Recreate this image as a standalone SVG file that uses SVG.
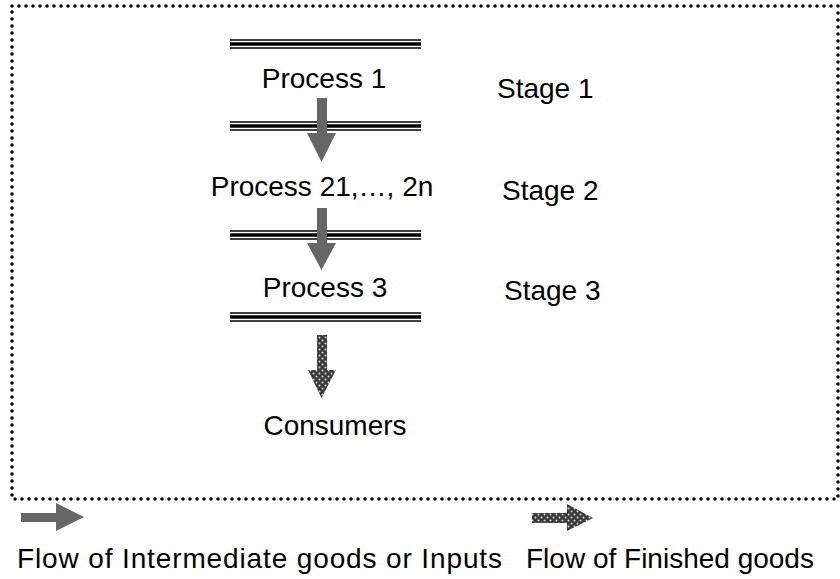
<svg xmlns="http://www.w3.org/2000/svg" width="840" height="579" viewBox="0 0 840 579">
<defs>
<pattern id="dots" width="6" height="6" patternUnits="userSpaceOnUse">
<rect width="6" height="6" fill="#3a3a3a"/>
<circle cx="1.5" cy="1.5" r="1" fill="#dcdcdc"/>
<circle cx="4.5" cy="4.5" r="1" fill="#dcdcdc"/>
</pattern>
<g id="tri">
<line x1="230" y1="-4" x2="421" y2="-4" stroke="#000" stroke-width="1.5"/>
<line x1="230" y1="0" x2="421" y2="0" stroke="#000" stroke-width="3.5"/>
<line x1="230" y1="4" x2="421" y2="4" stroke="#000" stroke-width="1.5"/>
</g>
</defs>
<style>
.t{font-family:"Liberation Sans",Arial,sans-serif;font-size:28px;fill:#000}
.solid{fill:#666}
.dotted{fill:url(#dots)}
.border{fill:none;stroke:#000;stroke-width:3.5;stroke-linecap:round;stroke-dasharray:0 7}
</style>
<rect width="840" height="579" fill="#fff"/>
<rect class="border" x="12" y="6" width="826" height="493"/>
<g id="separators">
<use href="#tri" y="44"/>
<use href="#tri" y="126"/>
<use href="#tri" y="235"/>
<use href="#tri" y="317"/>
</g>
<g id="process1"><text class="t" x="324" y="88" text-anchor="middle">Process 1</text></g>
<g id="stage1"><text class="t" x="497" y="98">Stage 1</text></g>
<g id="process2"><text class="t" x="322" y="196" text-anchor="middle">Process 21,…, 2n</text></g>
<g id="stage2"><text class="t" x="502" y="200">Stage 2</text></g>
<g id="process3"><text class="t" x="325" y="297" text-anchor="middle">Process 3</text></g>
<g id="stage3"><text class="t" x="504" y="300">Stage 3</text></g>
<g id="consumers"><text class="t" x="335" y="435" text-anchor="middle">Consumers</text></g>
<g id="connectors">
<polygon class="solid" points="317,98 327,98 327,133 336,133 321.5,162 307,133 317,133"/>
<polygon class="solid" points="317,208 327,208 327,243 336,243 321.5,270 307,243 317,243"/>
<polygon class="dotted" points="317,335 327,335 327,370 336,370 321.5,398 308,370 317,370"/>
</g>
<g id="legend">
<polygon class="solid" points="21,513 56,513 56,503 84,517 56,531 56,522 21,522"/>
<polygon class="dotted" points="532,513 567,513 567,504 593,518 567,531 567,523 532,523"/>
<text class="t" x="17" y="568" textLength="485" lengthAdjust="spacing">Flow of Intermediate goods or Inputs</text>
<text class="t" x="526" y="568">Flow of Finished goods</text>
</g>
</svg>
